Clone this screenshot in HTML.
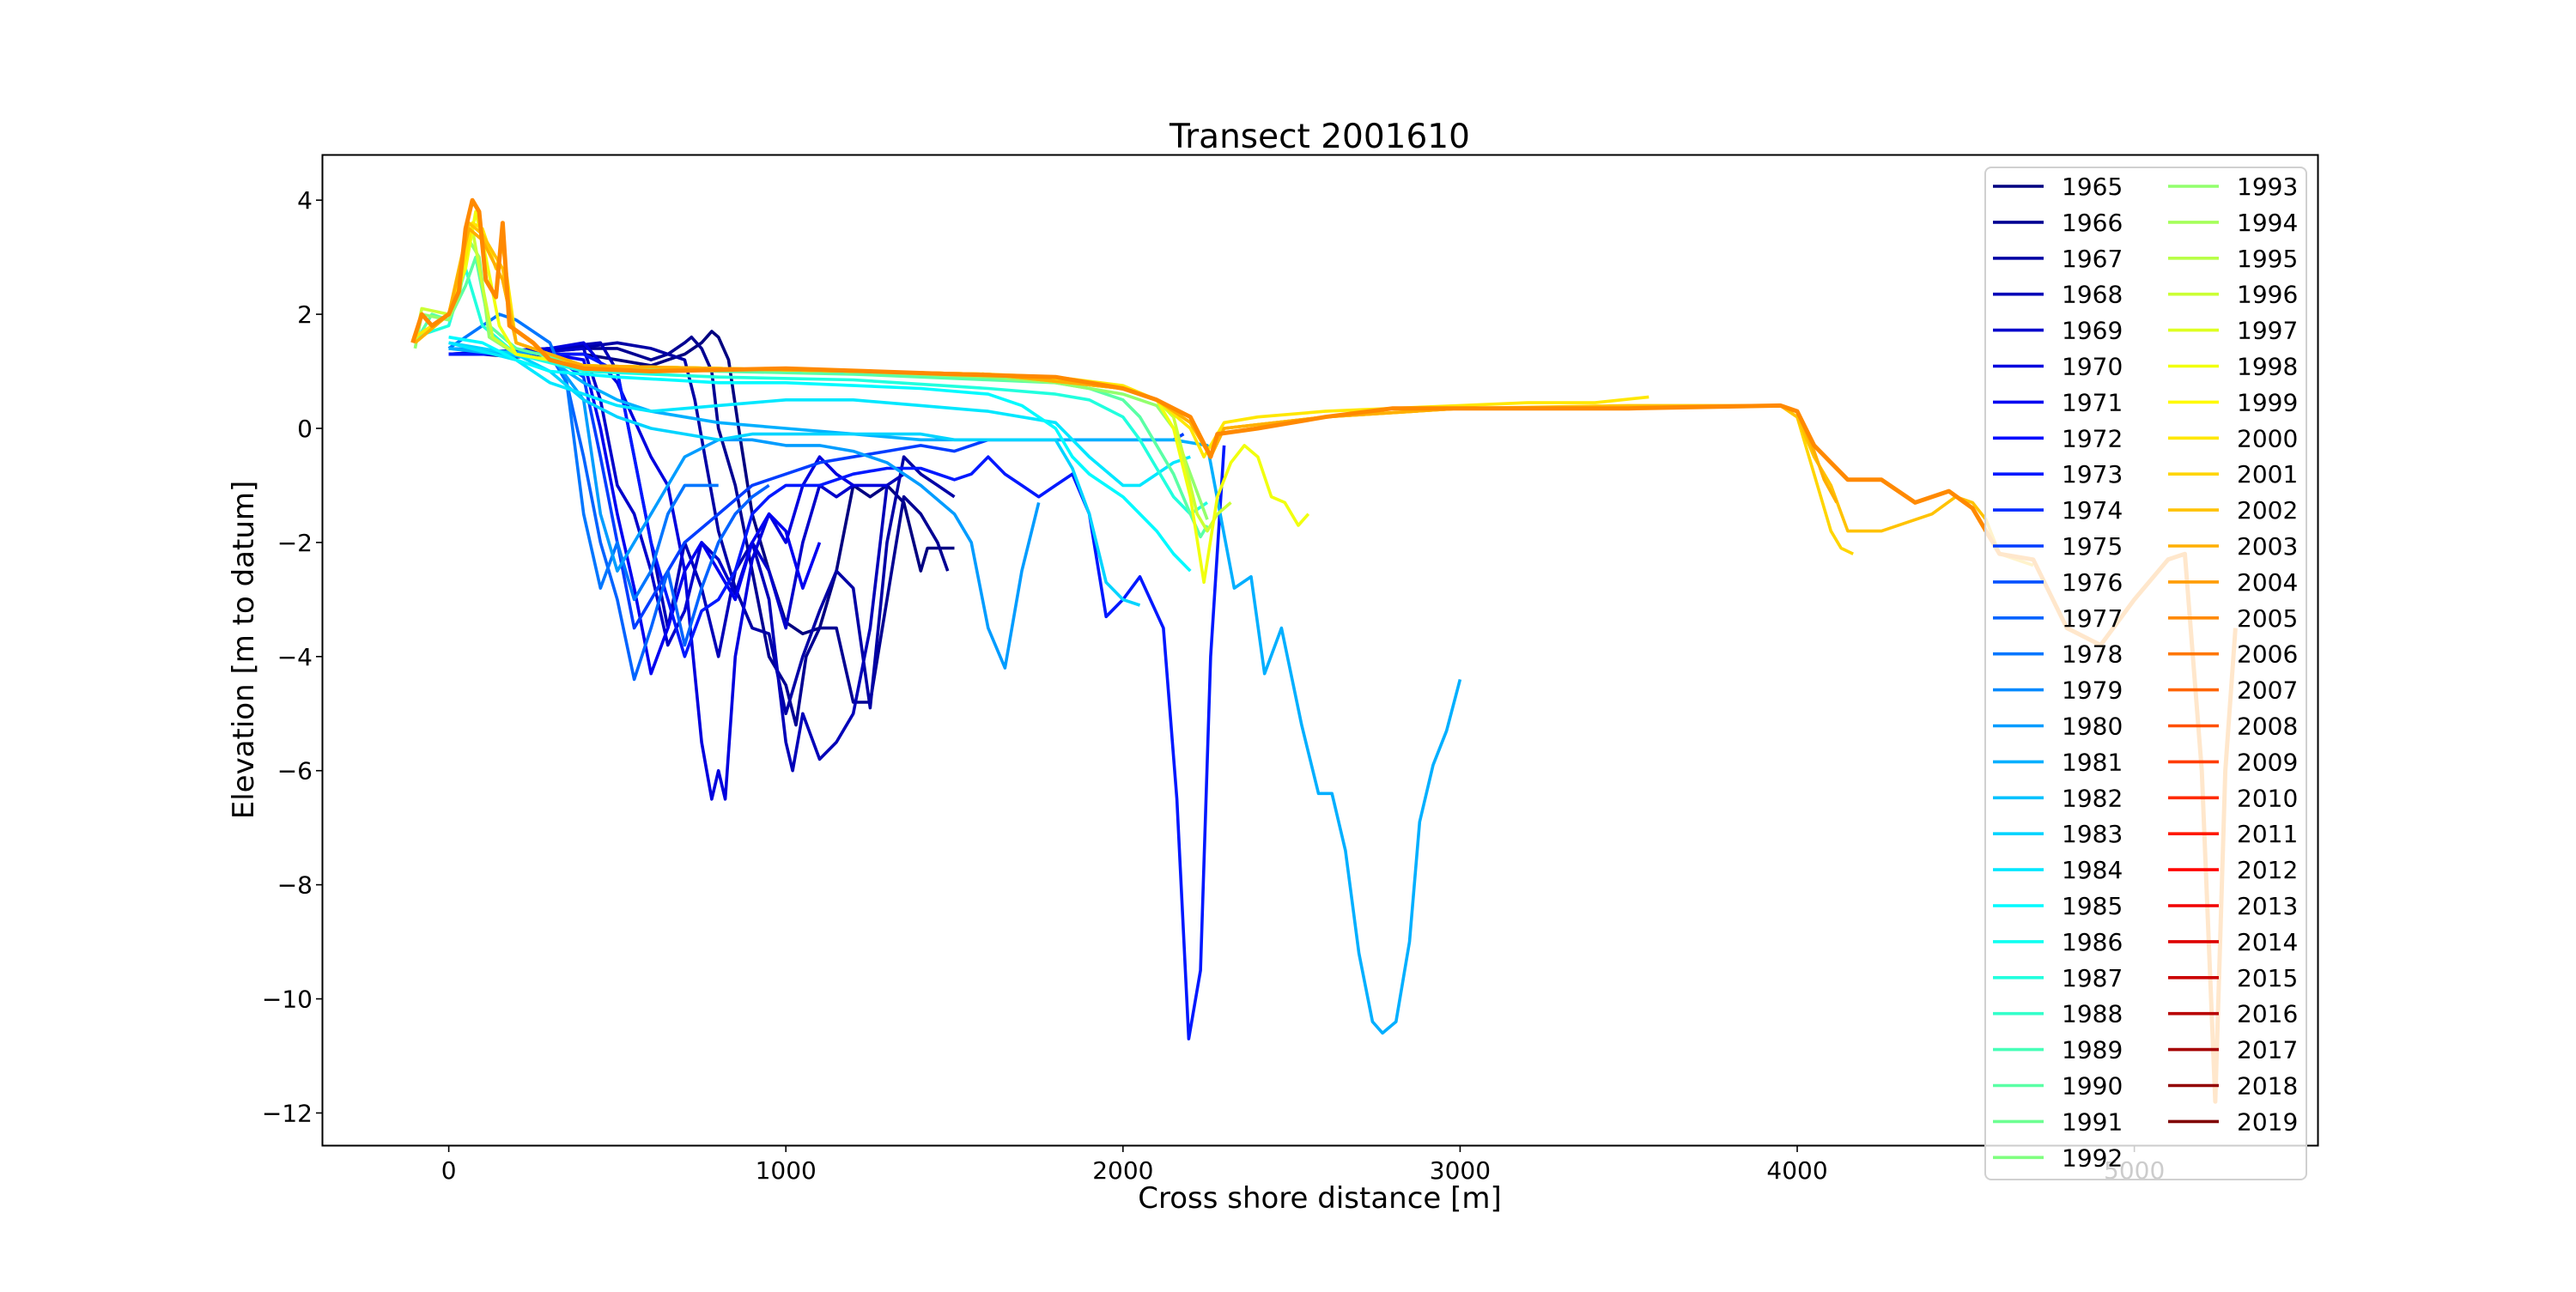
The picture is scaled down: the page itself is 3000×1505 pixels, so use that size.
<!DOCTYPE html>
<html><head><meta charset="utf-8"><style>
html,body{margin:0;padding:0;background:#fff;}
svg text{font-family:"DejaVu Sans","Liberation Sans",sans-serif;}
</style></head><body>
<svg id="chart" width="3000" height="1500" xmlns="http://www.w3.org/2000/svg">
<defs><clipPath id="axclip"><rect x="375" y="180" width="2325" height="1155"/></clipPath></defs>
<rect x="0" y="0" width="3000" height="1500" fill="#fff"/>
<text x="1537" y="172" font-size="39" text-anchor="middle">Transect 2001610</text>
<g id="plot" clip-path="url(#axclip)"></g>
<rect x="375.5" y="180.5" width="2324" height="1154" fill="none" stroke="#000" stroke-width="2"/>
<g id="ticks"></g>
<text x="1537" y="1407" font-size="34" text-anchor="middle">Cross shore distance [m]</text>
<text transform="translate(295,757) rotate(-90)" font-size="34" text-anchor="middle">Elevation [m to datum]</text>
<g id="legend"></g>
</svg>
<script>
const xTicks=[0,1000,2000,3000,4000,5000];
const yTicks=[4,2,0,-2,-4,-6,-8,-10,-12];
const legendYears=[];for(let y=1965;y<=2019;y++)legendYears.push(y);

const x1965=[0,100,200,300,400,500,600,650,700,750,780,800,830,860,900,950,1000,1050,1100,1150,1200,1250,1300,1350,1400,1420,1500];
const y1965=[1.3,1.3,1.25,1.3,1.3,1.2,1.1,1.2,1.3,1.5,1.7,1.6,1.2,0.0,-1.5,-2.5,-3.4,-3.6,-3.5,-2.5,-1.0,-1.2,-1.0,-1.3,-2.5,-2.1,-2.1];
const x1966=[0,200,400,500,550,600,650,700,720,750,780,800,850,900,950,1000,1030,1060,1100,1150,1200,1250,1300,1350,1400,1450,1480];
const y1966=[1.3,1.3,1.4,1.4,1.3,1.2,1.3,1.5,1.6,1.4,1.0,0.0,-1.0,-2.5,-4.0,-4.5,-5.2,-4.0,-3.5,-3.5,-4.8,-4.8,-3.0,-1.2,-1.5,-2.0,-2.5];
const x1967=[0,300,500,600,700,730,760,800,850,900,950,1000,1050,1100,1150,1200,1250,1300,1350,1400,1450,1500];
const y1967=[1.3,1.35,1.5,1.4,1.2,0.5,-0.5,-1.8,-2.8,-3.5,-3.6,-5.0,-4.0,-3.2,-2.5,-2.8,-4.9,-2.0,-0.5,-0.8,-1.0,-1.2];
const x1968=[0,300,450,500,550,600,650,700,750,800,850,900,950,1000,1020,1050,1100,1150,1200,1250,1300,1350];
const y1968=[1.3,1.4,1.5,1.0,-0.5,-2.0,-3.5,-2.0,-2.8,-4.0,-2.5,-2.0,-3.0,-5.5,-6.0,-5.0,-5.8,-5.5,-5.0,-3.5,-1.0,-0.8];
const x1969=[0,300,400,450,500,550,600,650,700,750,800,850,900,950,1000,1050,1100,1150,1200];
const y1969=[1.3,1.35,1.4,0.5,-1.0,-1.5,-2.5,-3.8,-3.2,-2.0,-2.3,-2.9,-2.0,-2.5,-3.5,-2.0,-1.0,-1.2,-1.0];
const x1970=[0,300,400,500,600,650,700,750,780,800,820,850,900,950,1000,1050,1100,1150,1200,1300];
const y1970=[1.3,1.4,1.5,0.8,-0.5,-1.0,-2.5,-5.5,-6.5,-6.0,-6.5,-4.0,-2.3,-1.5,-2.0,-1.0,-0.5,-0.8,-1.0,-1.0];
const x1971=[0,300,400,450,500,550,600,650,700,750,800,850,900,950,1000,1050,1100];
const y1971=[1.3,1.3,1.2,0.0,-1.5,-2.8,-4.3,-3.5,-2.5,-2.0,-2.5,-3.0,-2.0,-1.5,-1.8,-2.8,-2.0];
const x1973=[0,400,500,550,600,650,700,750,800,850,900,950,1000,1100,1200,1300,1400,1500,1550,1600,1650,1700,1750,1800,1850,1900,1950,2000,2050,2120,2160,2195,2230,2260,2300];
const y1973=[1.3,1.3,1.0,-0.5,-2.0,-3.0,-4.0,-3.2,-3.0,-2.5,-1.5,-1.2,-1.0,-1.0,-0.8,-0.7,-0.7,-0.9,-0.8,-0.5,-0.8,-1.0,-1.2,-1.0,-0.8,-1.5,-3.3,-3.0,-2.6,-3.5,-6.5,-10.7,-9.5,-4.0,-0.3];
const x1975=[0,300,400,450,500,550,600,700,800,900,1000,1100,1200,1300,1400,1500,1600,1700,1800,1900,2000,2100,2150,2180];
const y1975=[1.4,1.3,0.9,-0.5,-2.0,-3.5,-3.0,-2.0,-1.5,-1.0,-0.8,-0.6,-0.5,-0.4,-0.3,-0.4,-0.2,-0.2,-0.2,-0.2,-0.2,-0.2,-0.2,-0.1];
const x1977=[0,300,350,400,450,500,550,600,650,700,750,800,850,900,950];
const y1977=[1.4,1.3,0.8,-0.5,-2.0,-3.0,-4.4,-3.5,-2.5,-3.8,-2.8,-2.0,-1.5,-1.2,-1.0];
const x1978=[0,150,200,300,350,400,450,500,550,600,650,700,800];
const y1978=[1.4,2.0,1.9,1.5,0.8,-1.5,-2.8,-2.0,-3.0,-2.5,-1.5,-1.0,-1.0];
const x1980=[0,300,400,450,500,600,700,800,900,1000,1100,1200,1300,1400,1500,1550,1600,1650,1700,1750];
const y1980=[1.4,1.3,0.5,-1.5,-2.5,-1.5,-0.5,-0.2,-0.2,-0.3,-0.3,-0.4,-0.6,-1.0,-1.5,-2.0,-3.5,-4.2,-2.5,-1.3];
const x1981=[0,300,400,500,600,800,1000,1200,1400,1600,1800,2000,2150,2250,2330,2380,2420,2470,2530,2580,2620,2660,2700,2740,2770,2810,2850,2880,2920,2960,3000];
const y1981=[1.4,1.2,0.8,0.5,0.3,0.1,0.0,-0.1,-0.2,-0.2,-0.2,-0.2,-0.2,-0.3,-2.8,-2.6,-4.3,-3.5,-5.2,-6.4,-6.4,-7.4,-9.2,-10.4,-10.6,-10.4,-9.0,-6.9,-5.9,-5.3,-4.4];
const x1983=[0,200,300,400,500,600,700,800,900,1000,1100,1200,1300,1400,1500,1600,1700,1800,1850,1900,1950,2000,2050];
const y1983=[1.5,1.3,1.0,0.5,0.2,0.0,-0.1,-0.2,-0.1,-0.1,-0.1,-0.1,-0.1,-0.1,-0.2,-0.2,-0.2,-0.2,-0.7,-1.5,-2.7,-3.0,-3.1];
const x1984=[0,200,300,400,500,600,800,1000,1200,1400,1600,1800,1900,2000,2050,2100,2150,2200];
const y1984=[1.5,1.2,0.8,0.6,0.4,0.3,0.4,0.5,0.5,0.4,0.3,0.1,-0.5,-1.0,-1.0,-0.8,-0.6,-0.5];
const x1985=[0,100,200,300,500,800,1000,1200,1400,1600,1700,1800,1850,1900,2000,2050,2100,2150,2200];
const y1985=[1.6,1.5,1.2,1.0,0.9,0.8,0.8,0.75,0.7,0.6,0.4,0.0,-0.5,-0.8,-1.2,-1.5,-1.8,-2.2,-2.5];
const x1987=[-100,0,50,100,200,400,800,1200,1600,1800,1900,2000,2050,2100,2150,2200,2250];
const y1987=[1.6,1.8,2.8,1.8,1.3,1.0,0.9,0.85,0.7,0.6,0.5,0.2,-0.2,-0.7,-1.2,-1.5,-1.3];
const x1990=[-100,-50,0,50,80,120,200,400,800,1200,1600,1800,1900,2000,2050,2100,2150,2200,2230,2250];
const y1990=[1.5,2.0,1.9,2.5,3.0,1.8,1.4,1.1,1.0,0.95,0.85,0.8,0.7,0.5,0.2,-0.3,-0.8,-1.5,-1.9,-1.7];
const x1993=[-100,-80,0,30,60,90,120,200,400,800,1200,1600,1800,2000,2100,2150,2200,2250];
const y1993=[1.4,2.0,1.9,2.3,3.3,3.0,1.6,1.3,1.1,1.05,1.0,0.9,0.8,0.6,0.4,0.0,-0.8,-1.6];
const x1996=[-100,-80,0,40,70,100,130,200,400,800,1200,1600,1800,2000,2100,2150,2180,2220,2250,2280,2320];
const y1996=[1.5,2.1,2.0,2.8,3.5,2.5,1.6,1.3,1.1,1.05,1.0,0.95,0.85,0.7,0.5,0.2,-0.5,-1.5,-1.8,-1.5,-1.3];
const x1998=[-100,0,50,80,110,150,200,400,800,1200,1600,1800,2000,2100,2150,2200,2240,2280,2320,2360,2400,2440,2480,2520,2550];
const y1998=[1.5,2.0,2.8,3.8,3.0,1.8,1.3,1.1,1.05,1.0,0.95,0.85,0.7,0.5,0.0,-1.2,-2.7,-1.2,-0.6,-0.3,-0.5,-1.2,-1.3,-1.7,-1.5];
const x2000=[-100,0,50,70,100,140,160,200,400,800,1200,1600,1800,2000,2100,2200,2240,2260,2300,2400,2600,2800,3000,3200,3400,3560];
const y2000=[1.6,2.0,3.0,3.6,3.5,2.8,3.2,1.5,1.1,1.05,1.0,0.95,0.9,0.75,0.5,0.0,-0.5,-0.3,0.1,0.2,0.3,0.35,0.4,0.45,0.45,0.55];
const x2001=[-100,0,60,100,160,200,400,800,1200,1600,2000,2100,2200,2260,2300,2600,3000,3500,3950,4000,4050,4100,4130,4166];
const y2001=[1.5,2.0,3.5,3.3,2.6,1.5,1.1,1.05,1.0,0.95,0.7,0.5,0.1,-0.5,0.0,0.2,0.35,0.35,0.4,0.2,-0.8,-1.8,-2.1,-2.2];
const x2002=[-100,0,60,100,160,200,400,800,1200,1600,2000,2100,2200,2260,2300,2600,3000,3500,3950,4000,4050,4100,4150,4250,4400,4470,4520,4560,4600,4700];
const y2002=[1.5,2.0,3.6,3.4,2.8,1.5,1.1,1.05,1.0,0.95,0.7,0.5,0.1,-0.5,0.0,0.2,0.35,0.4,0.4,0.2,-0.5,-1.0,-1.8,-1.8,-1.5,-1.2,-1.3,-1.6,-2.2,-2.4];
const x2003=[-100,0,60,100,160,200,400,800,1200,1600,2000,2100,2200,2260,2300,2600,3000,3500,3950,4000,4050,4080,4117];
const y2003=[1.5,2.0,3.5,3.3,2.6,1.5,1.1,1.05,1.0,0.95,0.7,0.5,0.1,-0.5,0.0,0.2,0.35,0.35,0.4,0.3,-0.4,-0.9,-1.3];
const x2005=[-107,-80,-50,0,30,50,70,90,110,140,160,180,250,300,400,600,1000,1500,1800,2000,2100,2200,2260,2280,2400,2600,2800,3000,3500,3950,4000,4050,4100,4150,4250,4350,4450,4520,4600,4700,4800,4900,5000,5100,5150,5200,5240,5270,5300];
const y2005=[1.5,2.0,1.8,2.0,2.4,3.5,4.0,3.8,2.6,2.3,3.6,1.8,1.5,1.2,1.05,1.0,1.05,0.95,0.9,0.7,0.5,0.2,-0.5,-0.1,0.0,0.2,0.35,0.35,0.35,0.4,0.3,-0.3,-0.6,-0.9,-0.9,-1.3,-1.1,-1.4,-2.2,-2.3,-3.5,-3.8,-3.0,-2.3,-2.2,-6.0,-11.8,-6.0,-3.5];

const seriesYears=[1965,1966,1967,1968,1969,1970,1971,1973,1975,1977,1978,1980,1981,1983,1984,1985,1987,1990,1993,1996,1998,2000,2001,2002,2003,2005];
const seriesX=[x1965,x1966,x1967,x1968,x1969,x1970,x1971,x1973,x1975,x1977,x1978,x1980,x1981,x1983,x1984,x1985,x1987,x1990,x1993,x1996,x1998,x2000,x2001,x2002,x2003,x2005];
const seriesY=[y1965,y1966,y1967,y1968,y1969,y1970,y1971,y1973,y1975,y1977,y1978,y1980,y1981,y1983,y1984,y1985,y1987,y1990,y1993,y1996,y1998,y2000,y2001,y2002,y2003,y2005];

const NS='http://www.w3.org/2000/svg';
const X0=375,X1=2700,Y0=1335,Y1=180;
const xMin=-376,xMax=5546,yMin=-12.58,yMax=4.8;
function sx(v){return X0+(v-xMin)/(xMax-xMin)*(X1-X0);}
function sy(v){return Y0-(v-yMin)/(yMax-yMin)*(Y0-Y1);}
function jet(year){
  const v=(year-1965)/54;
  const c=t=>Math.round(255*Math.max(0,Math.min(1,t)));
  return 'rgb('+c(1.5-Math.abs(4*v-3))+','+c(1.5-Math.abs(4*v-2))+','+c(1.5-Math.abs(4*v-1))+')';
}
const plot=document.getElementById('plot');
seriesYears.forEach((yr,i)=>{
  const p=document.createElementNS(NS,'polyline');
  p.setAttribute('points',seriesX[i].map((x,j)=>sx(x).toFixed(1)+','+sy(seriesY[i][j]).toFixed(1)).join(' '));
  p.setAttribute('fill','none');
  p.setAttribute('stroke',jet(yr));
  p.setAttribute('stroke-width',yr===2005?5:3.6);
  p.setAttribute('stroke-linejoin','round');
  
  
  plot.appendChild(p);
});
const tk=document.getElementById('ticks');
xTicks.forEach(t=>{
  const l=document.createElementNS(NS,'line');
  l.setAttribute('x1',sx(t));l.setAttribute('x2',sx(t));l.setAttribute('y1',Y0);l.setAttribute('y2',Y0+7);
  l.setAttribute('stroke','#000');l.setAttribute('stroke-width',1.6);
  
  
  tk.appendChild(l);
  const tx=document.createElementNS(NS,'text');
  tx.setAttribute('x',sx(t));tx.setAttribute('y',Y0+38);tx.setAttribute('font-size','28');tx.setAttribute('text-anchor','middle');
  tx.textContent=t;
  
  
  tk.appendChild(tx);
});
yTicks.forEach(t=>{
  const l=document.createElementNS(NS,'line');
  l.setAttribute('x1',X0-7);l.setAttribute('x2',X0);l.setAttribute('y1',sy(t));l.setAttribute('y2',sy(t));
  l.setAttribute('stroke','#000');l.setAttribute('stroke-width',1.6);
  
  
  tk.appendChild(l);
  const tx=document.createElementNS(NS,'text');
  tx.setAttribute('x',364);tx.setAttribute('y',sy(t)+10);tx.setAttribute('font-size','28');tx.setAttribute('text-anchor','end');
  tx.textContent=t<0?'\u2212'+Math.abs(t):t;
  
  
  tk.appendChild(tx);
});
const lg=document.getElementById('legend');
const box=document.createElementNS(NS,'rect');
box.setAttribute('x',2312);box.setAttribute('y',195);box.setAttribute('width',374);box.setAttribute('height',1179);
box.setAttribute('rx',7);box.setAttribute('fill','rgba(255,255,255,0.8)');box.setAttribute('stroke','#d0d0d0');box.setAttribute('stroke-width',2);


lg.appendChild(box);
legendYears.forEach((yr,i)=>{
  const col=Math.floor(i/28),row=i%28;
  const lx=2321+col*204,ly=217+row*41.9;
  const g=document.createElementNS(NS,'g');
  
  
  const l=document.createElementNS(NS,'line');
  l.setAttribute('x1',lx);l.setAttribute('x2',lx+59);l.setAttribute('y1',ly);l.setAttribute('y2',ly);
  l.setAttribute('stroke',jet(yr));l.setAttribute('stroke-width',3.6);
  g.appendChild(l);
  const t=document.createElementNS(NS,'text');
  t.setAttribute('x',lx+80);t.setAttribute('y',ly+10);t.setAttribute('font-size','28');
  t.textContent=yr;
  g.appendChild(t);
  lg.appendChild(g);
});
</script>
</body></html>
